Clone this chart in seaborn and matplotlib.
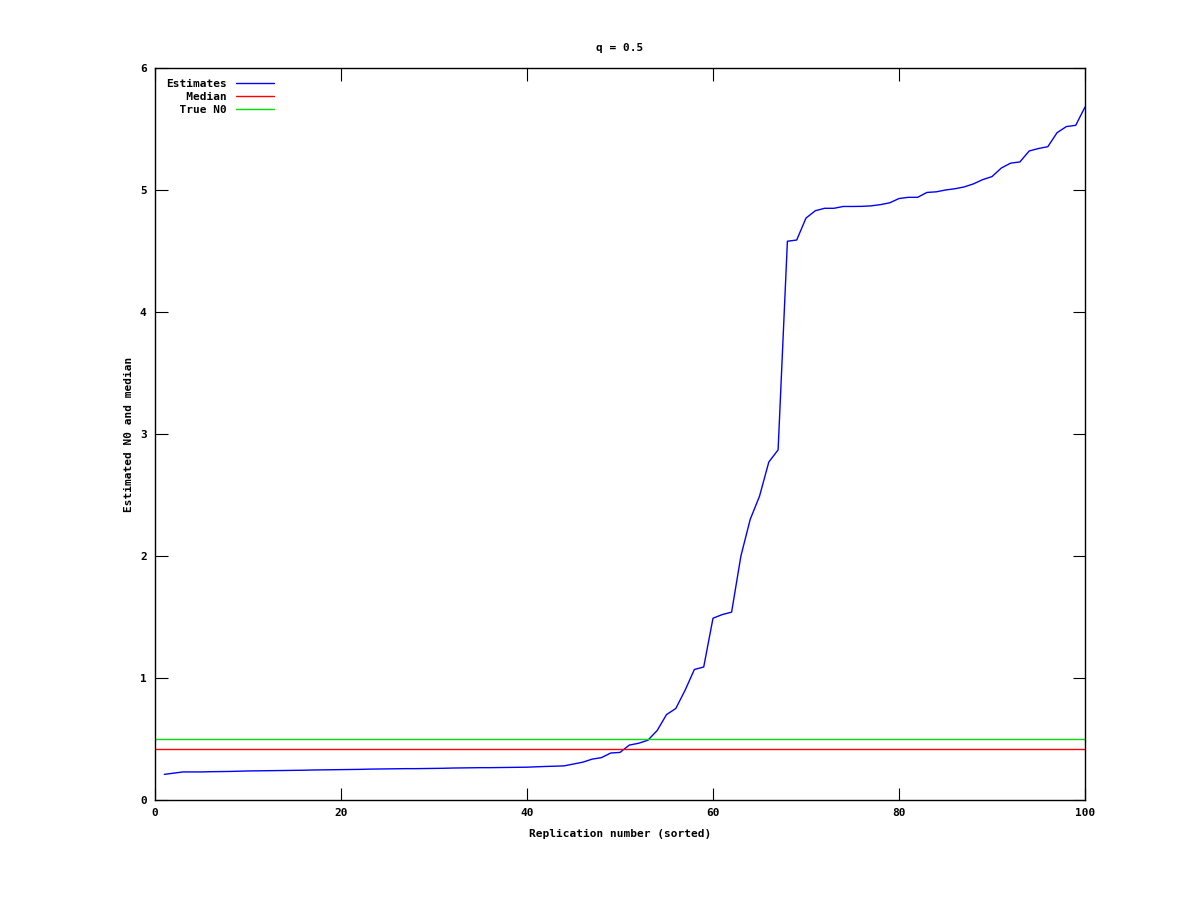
import numpy as np
import pandas as pd
import matplotlib
matplotlib.use("Agg")
import matplotlib.pyplot as plt
import seaborn as sns

# ── Data ──────────────────────────────────────────────────────────
replication = list(range(1, 101))
estimates = [
    0.210, 0.220, 0.230, 0.230, 0.230, 0.232, 0.233, 0.234, 0.236, 0.238,
    0.239, 0.240, 0.241, 0.242, 0.243, 0.244, 0.246, 0.247, 0.248, 0.249,
    0.250, 0.251, 0.253, 0.254, 0.255, 0.256, 0.257, 0.257, 0.258, 0.259,
    0.260, 0.262, 0.263, 0.264, 0.265, 0.265, 0.266, 0.267, 0.268, 0.269,
    0.272, 0.275, 0.277, 0.280, 0.295, 0.310, 0.335, 0.347, 0.385, 0.390,
    0.450, 0.465, 0.490, 0.570, 0.700, 0.750, 0.900, 1.070, 1.090, 1.490,
    1.520, 1.540, 2.000, 2.300, 2.490, 2.770, 2.870, 4.580, 4.590, 4.770,
    4.830, 4.850, 4.850, 4.865, 4.865, 4.866, 4.870, 4.880, 4.895, 4.930,
    4.940, 4.940, 4.980, 4.985, 5.000, 5.010, 5.025, 5.050, 5.085, 5.110,
    5.180, 5.220, 5.230, 5.320, 5.340, 5.355, 5.470, 5.520, 5.530, 5.680,
]
median_value = 0.415
true_n0 = 0.5

x_ticks = [0, 20, 40, 60, 80, 100]
y_ticks = [0, 1, 2, 3, 4, 5, 6]

# ── Style (gnuplot look) ──────────────────────────────────────────
sns.set_style("ticks")
plt.rcParams.update({
    "font.family": ["DejaVu Sans Mono"],
    "font.weight": "bold",
    "font.size": 8,
    "text.color": "black",
    "axes.labelcolor": "black",
    "xtick.color": "black",
    "ytick.color": "black",
    "axes.edgecolor": "black",
    "axes.linewidth": 1.0,
    "xtick.direction": "in",
    "ytick.direction": "in",
    "xtick.top": True,
    "ytick.right": True,
})

df = pd.DataFrame({"rep": replication, "est": estimates})

fig = plt.figure(figsize=(12, 9), dpi=100)
ax = fig.add_axes([155 / 1200, 100 / 900, 930 / 1200, 732 / 900])

sns.lineplot(data=df, x="rep", y="est", ax=ax, color="#0000ff", lw=1.0,
             label="Estimates")
ax.axhline(median_value, color="#ff0000", lw=1.0, label="   Median")
ax.axhline(true_n0, color="#00e000", lw=1.0, label="  True N0")

ax.set_xlim(0, 100)
ax.set_ylim(0, 6)
ax.set_xticks(x_ticks)
ax.set_yticks(y_ticks)
ax.tick_params(which="both", length=9, width=0.8, color="black",
               labelcolor="black", labelsize=8, pad=6, top=True, right=True,
               labeltop=False, labelright=False)
for s in ax.spines.values():
    s.set_visible(True)
    s.set_color("black")

ax.set_xlabel("Replication number (sorted)", fontsize=8, fontweight="bold",
              labelpad=8, color="black")
ax.set_ylabel("Estimated N0 and median", fontsize=8, fontweight="bold",
              labelpad=4, color="black")
ax.set_title("q = 0.5", fontsize=8, fontweight="bold", pad=12, color="black")

leg = ax.legend(loc="upper left", frameon=False, markerfirst=False,
                handlelength=3.4, handletextpad=0.8, labelspacing=0.25,
                borderaxespad=0.7, borderpad=0.3,
                prop={"family": "DejaVu Sans Mono", "weight": "bold", "size": 8})
for t in leg.get_texts():
    t.set_color("black")

fig.savefig("out.png", dpi=100)
plt.close()
